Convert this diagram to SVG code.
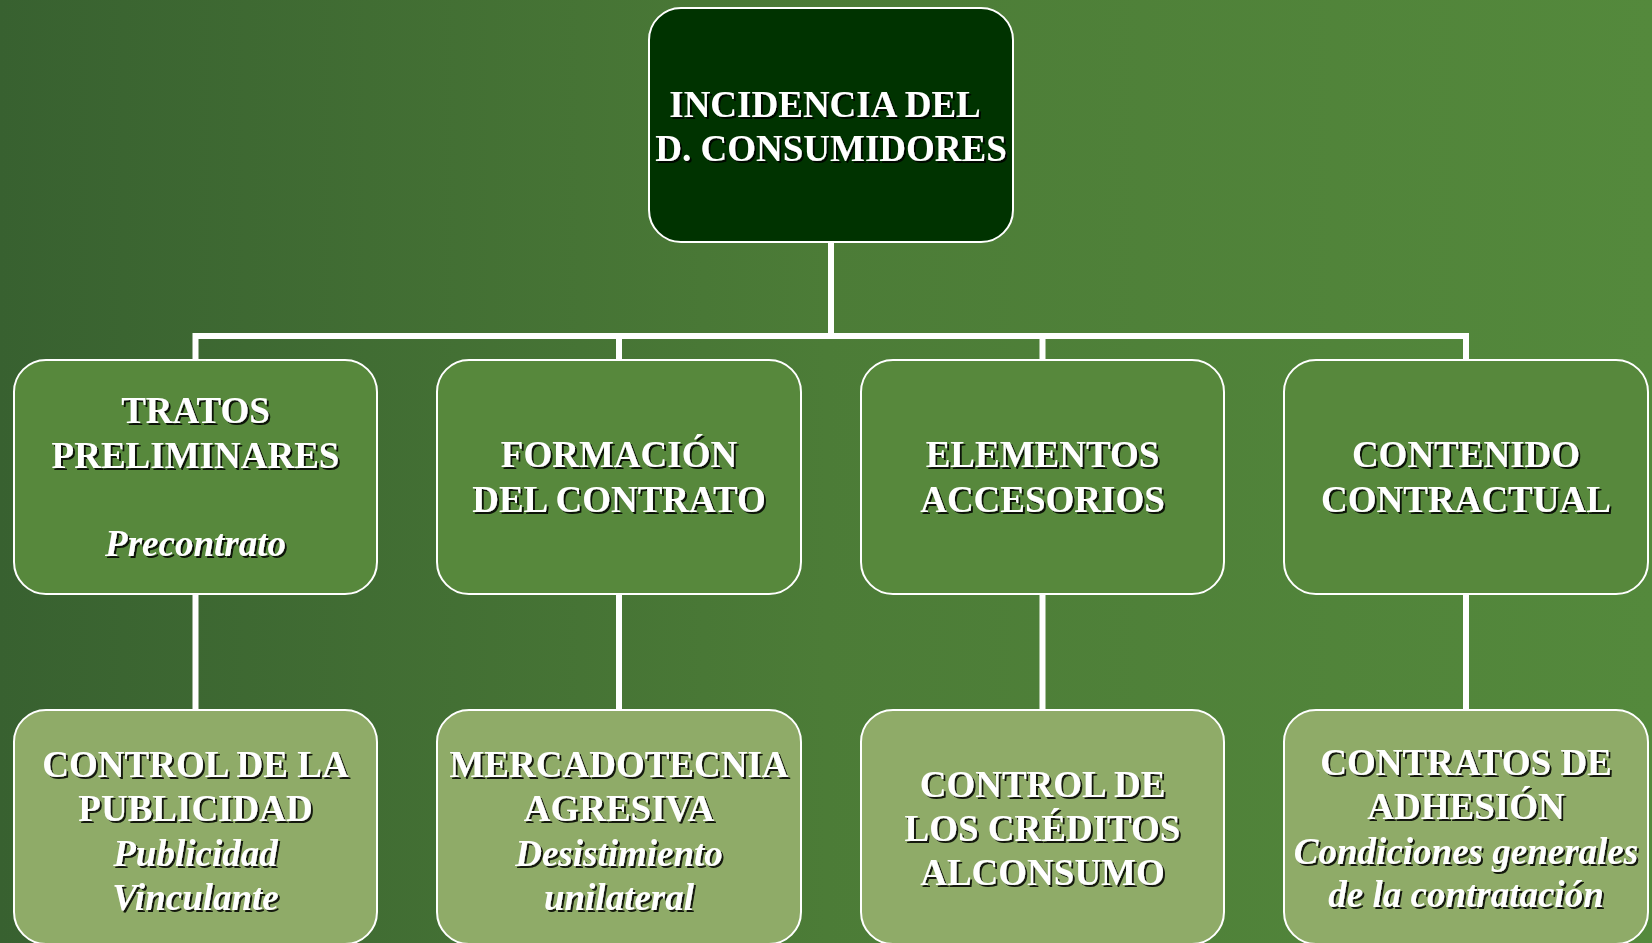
<svg xmlns="http://www.w3.org/2000/svg" width="1652" height="943" viewBox="0 0 1652 943">
<defs>
<linearGradient id="bg" x1="0" y1="0" x2="1" y2="0">
<stop offset="0" stop-color="#386130"/>
<stop offset="0.5" stop-color="#4c7c37"/>
<stop offset="1" stop-color="#54893c"/>
</linearGradient>
<filter id="sh" x="-5%" y="-20%" width="110%" height="140%">
<feOffset in="SourceAlpha" dx="2" dy="2" result="o"/>
<feFlood flood-color="#000000" flood-opacity="0.85"/>
<feComposite in2="o" operator="in" result="s"/>
<feMerge><feMergeNode in="s"/><feMergeNode in="SourceGraphic"/></feMerge>
</filter>
</defs>
<style>
.box{stroke:#ffffff;stroke-width:2}
.root{fill:#003300}
.mid{fill:#57883c}
.low{fill:#8fab68}
.t{font-family:"Liberation Serif","Times New Roman",serif;font-size:37px;font-weight:bold;fill:#ffffff;text-anchor:middle}
.i{font-style:italic}
.c{stroke:#ffffff;fill:none;stroke-width:6}
</style>
<rect width="1652" height="943" fill="url(#bg)"/>
<g id="connectors">
<path class="c" d="M831 242V336M195.5 336H1466M195.5 333V360M619 333V360M1042.5 333V360M1466 333V360"/>
<path class="c" d="M195.5 594V710M619 594V710M1042.5 594V710M1466 594V710"/>
</g>
<g id="root">
<rect class="box root" x="649" y="8" width="364" height="234" rx="32"/>
<g filter="url(#sh)">
<text class="t" x="825" y="117">INCIDENCIA DEL</text>
<text class="t" x="831" y="161">D. CONSUMIDORES</text>
</g>
</g>
<g id="tratos">
<rect class="box mid" x="14" y="360" width="363" height="234" rx="32"/>
<g filter="url(#sh)">
<text class="t" x="195.5" y="423">TRATOS</text>
<text class="t" x="195.5" y="468">PRELIMINARES</text>
<text class="t i" x="195.5" y="556">Precontrato</text>
</g>
</g>
<g id="formacion">
<rect class="box mid" x="437" y="360" width="364" height="234" rx="32"/>
<g filter="url(#sh)">
<text class="t" x="619" y="467">FORMACIÓN</text>
<text class="t" x="619" y="512">DEL CONTRATO</text>
</g>
</g>
<g id="elementos">
<rect class="box mid" x="861" y="360" width="363" height="234" rx="32"/>
<g filter="url(#sh)">
<text class="t" x="1042.5" y="467">ELEMENTOS</text>
<text class="t" x="1042.5" y="512">ACCESORIOS</text>
</g>
</g>
<g id="contenido">
<rect class="box mid" x="1284" y="360" width="364" height="234" rx="32"/>
<g filter="url(#sh)">
<text class="t" x="1466" y="467">CONTENIDO</text>
<text class="t" x="1466" y="512">CONTRACTUAL</text>
</g>
</g>
<g id="publicidad">
<rect class="box low" x="14" y="710" width="363" height="234" rx="32"/>
<g filter="url(#sh)">
<text class="t" x="195.5" y="777">CONTROL DE LA</text>
<text class="t" x="195.5" y="821">PUBLICIDAD</text>
<text class="t i" x="195.5" y="866">Publicidad</text>
<text class="t i" x="195.5" y="910">Vinculante</text>
</g>
</g>
<g id="mercadotecnia">
<rect class="box low" x="437" y="710" width="364" height="234" rx="32"/>
<g filter="url(#sh)">
<text class="t" x="619" y="777">MERCADOTECNIA</text>
<text class="t" x="619" y="821">AGRESIVA</text>
<text class="t i" x="619" y="866">Desistimiento</text>
<text class="t i" x="619" y="910">unilateral</text>
</g>
</g>
<g id="creditos">
<rect class="box low" x="861" y="710" width="363" height="234" rx="32"/>
<g filter="url(#sh)">
<text class="t" x="1042.5" y="797">CONTROL DE</text>
<text class="t" x="1042.5" y="841">LOS CRÉDITOS</text>
<text class="t" x="1042.5" y="885">ALCONSUMO</text>
</g>
</g>
<g id="adhesion">
<rect class="box low" x="1284" y="710" width="364" height="234" rx="32"/>
<g filter="url(#sh)">
<text class="t" x="1466" y="775">CONTRATOS DE</text>
<text class="t" x="1466" y="819">ADHESIÓN</text>
<text class="t i" x="1466" y="864">Condiciones generales</text>
<text class="t i" x="1466" y="907">de la contratación</text>
</g>
</g>
</svg>
